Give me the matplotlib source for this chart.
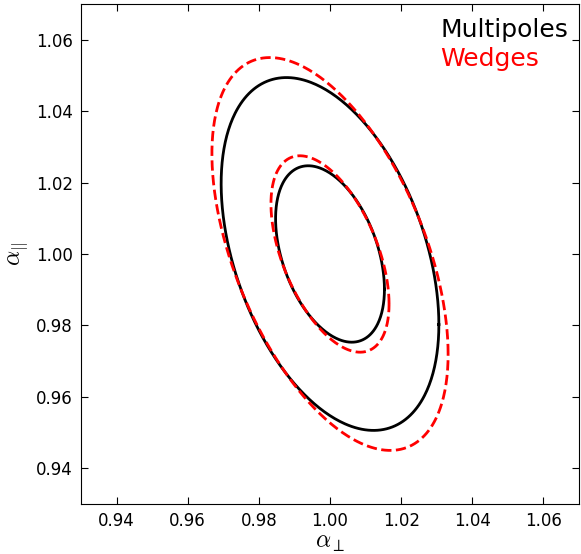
import matplotlib
matplotlib.use('Agg')
import matplotlib.pyplot as plt
import numpy as np

plt.rcParams['mathtext.fontset'] = 'cm'

# best fit and errors for the two methods
names = ['Multipoles', 'Wedges']
colors = ['black', 'red']
styles = ['-', '--']
center_perp = [1.000, 1.000]
center_par = [1.000, 1.000]
sigma_perp = [0.0153, 0.0166]
sigma_par = [0.0247, 0.0275]
corr = [-0.40, -0.51]
levels = [1, 2]

xticks = [0.94, 0.96, 0.98, 1.00, 1.02, 1.04, 1.06]
yticks = [0.94, 0.96, 0.98, 1.00, 1.02, 1.04, 1.06]

fig = plt.figure(figsize=(5.81, 5.54), dpi=100)
ax = fig.add_axes([0.1394, 0.0903, 0.8572, 0.9025])

t = np.linspace(0, 2*np.pi, 400)
for i in range(len(names)):
    cov = np.array([[sigma_perp[i]**2, corr[i]*sigma_perp[i]*sigma_par[i]],
                    [corr[i]*sigma_perp[i]*sigma_par[i], sigma_par[i]**2]])
    L = np.linalg.cholesky(cov)
    circ = np.vstack([np.cos(t), np.sin(t)])
    for k in levels:
        pts = k * L.dot(circ)
        ax.plot(center_perp[i] + pts[0], center_par[i] + pts[1],
                color=colors[i], ls=styles[i], lw=2)

ax.set_xlim(0.93, 1.07)
ax.set_ylim(0.93, 1.07)
ax.set_xticks(xticks)
ax.set_yticks(yticks)
ax.set_xticklabels(['%.2f' % v for v in xticks])
ax.set_yticklabels(['%.2f' % v for v in yticks])
ax.tick_params(direction='in', length=5, top=True, right=True, labelsize=12, pad=6)

ax.set_xlabel(r'$\alpha_\perp$', fontsize=17, labelpad=0)
ax.set_ylabel(r'$\alpha_{||}$', fontsize=17, labelpad=4)

ax.text(0.721, 0.934, names[0], color=colors[0], fontsize=18, transform=ax.transAxes)
ax.text(0.721, 0.876, names[1], color=colors[1], fontsize=18, transform=ax.transAxes)

plt.savefig('out.png', dpi=100)
